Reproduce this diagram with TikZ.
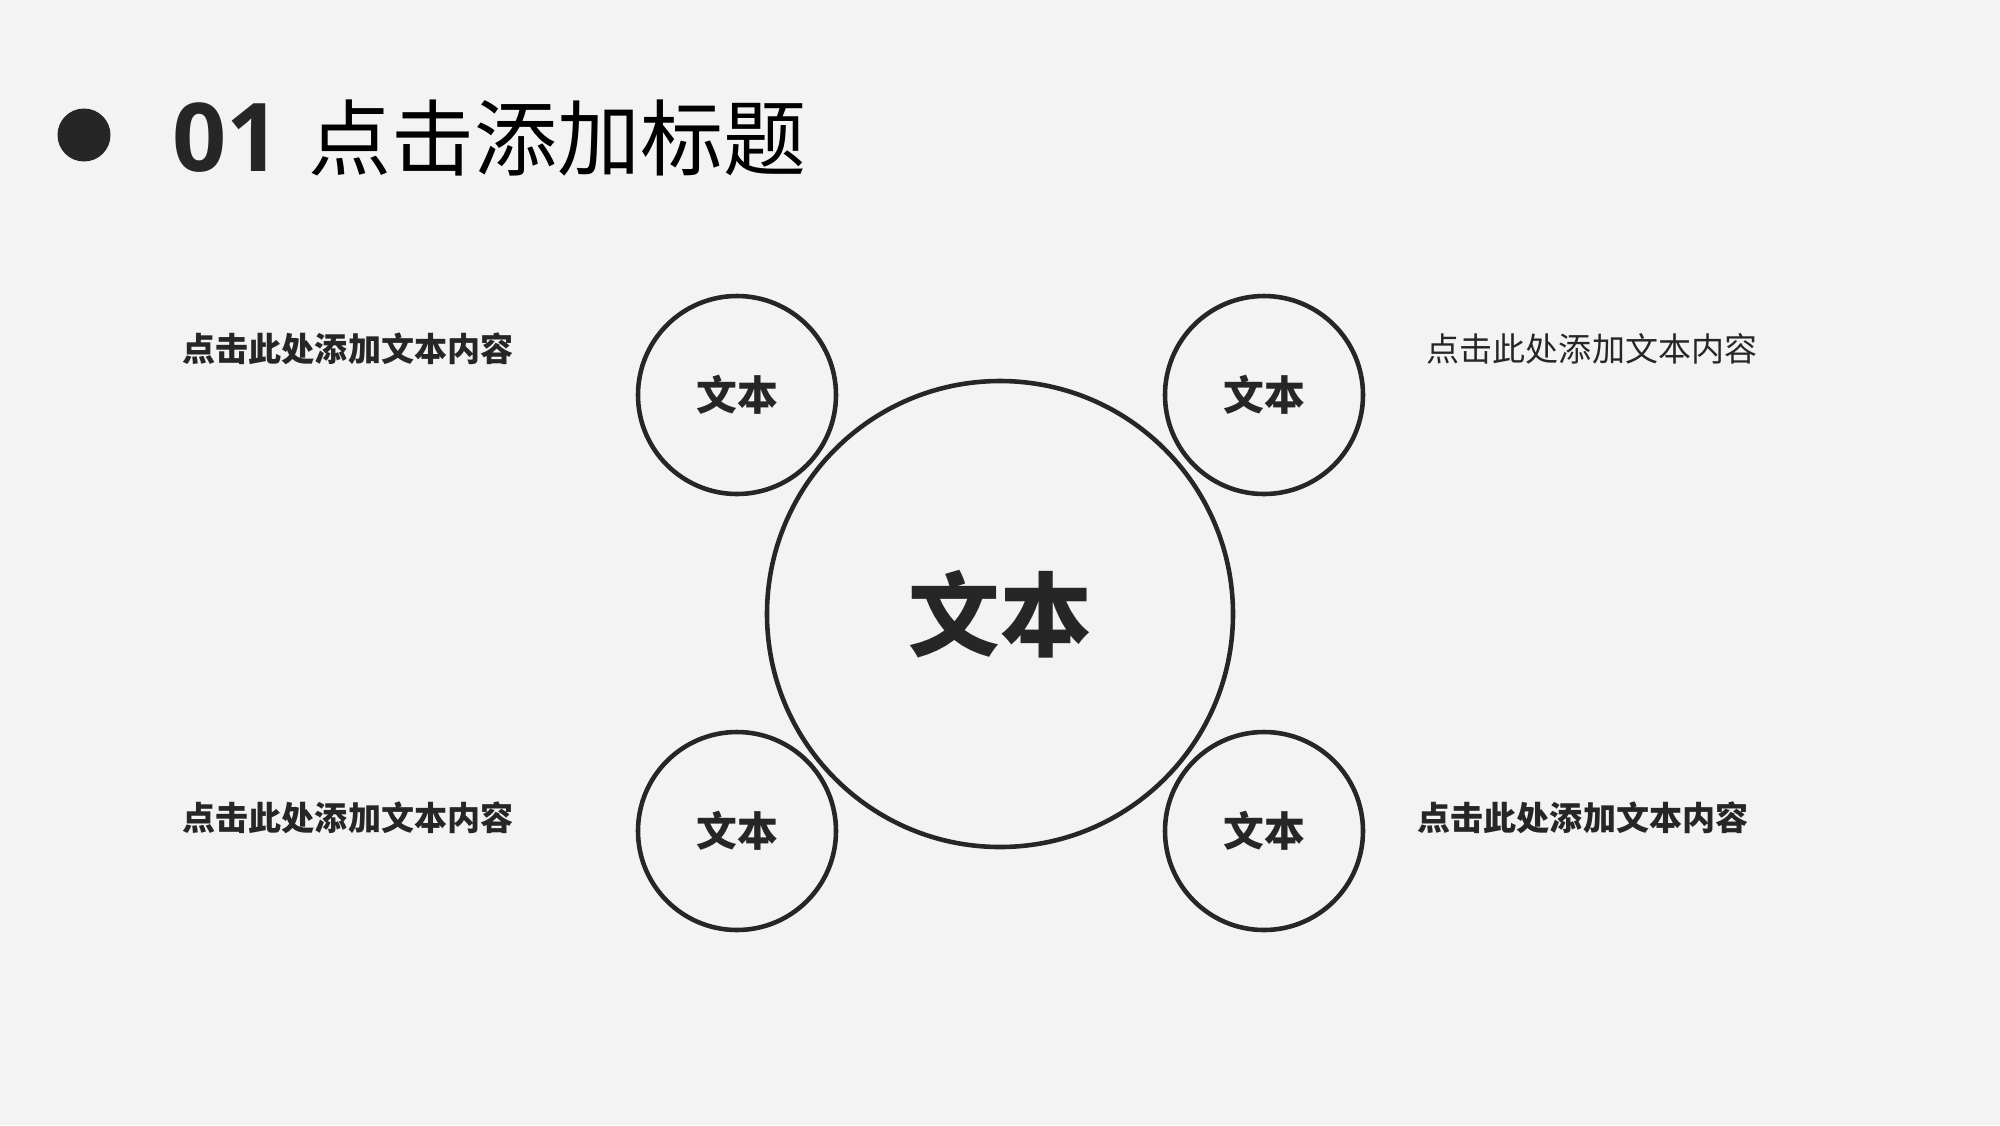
\documentclass[tikz,border=0pt]{standalone}
\usepackage{fontspec}
\usepackage{xcolor}
\usepackage{tikz}
\usetikzlibrary{positioning}
\newfontfamily\cjk{Noto Sans CJK SC}
\newfontfamily\numfont{Open Sans}
\definecolor{ink}{HTML}{262626}
\definecolor{paper}{HTML}{F3F3F3}
\tikzset{
  bigring/.style={draw=ink,line width=1.3pt,circle,minimum size=4.66cm,inner sep=0pt,
    text=ink,font=\cjk\bfseries\fontsize{26}{30}\selectfont},
  ring/.style={draw=ink,line width=1.3pt,circle,minimum size=1.98cm,inner sep=0pt,
    text=ink,font=\cjk\bfseries\fontsize{11.6}{14}\selectfont},
  note/.style={text=ink,inner sep=0pt,font=\cjk\bfseries\fontsize{9.4}{12}\selectfont},
  plainnote/.style={text=ink,inner sep=0pt,font=\cjk\fontsize{9.4}{12}\selectfont}
}
\begin{document}
\begin{tikzpicture}
        \fill[paper] (0,0) rectangle (20,-11.25);
        \useasboundingbox (0,0) rectangle (20,-11.25);
        % title
        \fill[ink] (0.84,-1.35) circle (0.265);
        \node[anchor=west,inner sep=0pt,text=ink,font=\numfont\bfseries\fontsize{27}{30}\selectfont] (num) at (1.72,-1.38) {01};
        \node[anchor=west,inner sep=0pt,text=black,font=\cjk\fontsize{23.6}{28}\selectfont] (title) at (3.08,-1.38) {点击添加标题};
        % rings
        \node[bigring] (C) at (10,-6.14) {\raisebox{-1mm}{文本}};
        \node[ring] (TL) at (7.37,-3.95) {\raisebox{-0.4mm}{文本}};
        \node[ring] (TR) at (12.64,-3.95) {\raisebox{-0.4mm}{文本}};
        \node[ring] (BL) at (7.37,-8.31) {\raisebox{-0.4mm}{文本}};
        \node[ring] (BR) at (12.64,-8.31) {\raisebox{-0.4mm}{文本}};
        % notes
        \node[note] (nTL) at (3.48,-3.49) {点击此处添加文本内容};
        \node[plainnote] (nTR) at (15.92,-3.49) {点击此处添加文本内容};
        \node[note] (nBL) at (3.48,-8.18) {点击此处添加文本内容};
        \node[note] (nBR) at (15.83,-8.18) {点击此处添加文本内容};
        \end{tikzpicture}
\end{document}
